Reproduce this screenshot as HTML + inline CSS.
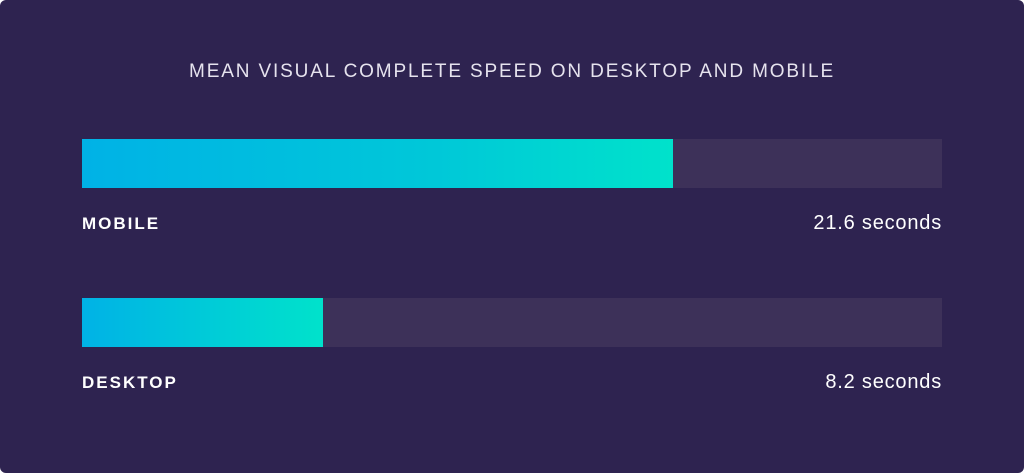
<!DOCTYPE html>
<html><head><style>
body{margin:0;width:1024px;height:473px;background:#fff;overflow:hidden;font-family:"Liberation Sans",sans-serif}
.bg{position:absolute;left:0;top:0;width:1024px;height:473px;background:#2e2350;border-radius:6px}
.t{position:absolute;top:61px;left:0;width:1024px;text-align:center;color:#e6e3ee;font-size:19px;letter-spacing:1.85px}
.track{position:absolute;left:82px;width:860px;height:49px;background:#3d3159}
.bar{position:absolute;left:0;top:0;height:49px}
.l{position:absolute;left:82px;color:#fff;font-weight:bold;font-size:17px;letter-spacing:2px}
.r{position:absolute;right:82px;color:#fff;font-size:20px;letter-spacing:0.8px}
</style></head><body>
<div class="bg"></div>
<div class="t">MEAN VISUAL COMPLETE SPEED ON DESKTOP AND MOBILE</div>
<div class="track" style="top:139px"><div class="bar" style="width:591px;background:linear-gradient(90deg,#00b2e6,#00c8d8 60%,#00e2cb)"></div></div>
<div class="l" style="top:214px">MOBILE</div>
<div class="r" style="top:212px">21.6 seconds</div>
<div class="track" style="top:298px"><div class="bar" style="width:241px;background:linear-gradient(90deg,#00b2e6,#00e2cb)"></div></div>
<div class="l" style="top:373px">DESKTOP</div>
<div class="r" style="top:371px">8.2 seconds</div>
</body></html>
